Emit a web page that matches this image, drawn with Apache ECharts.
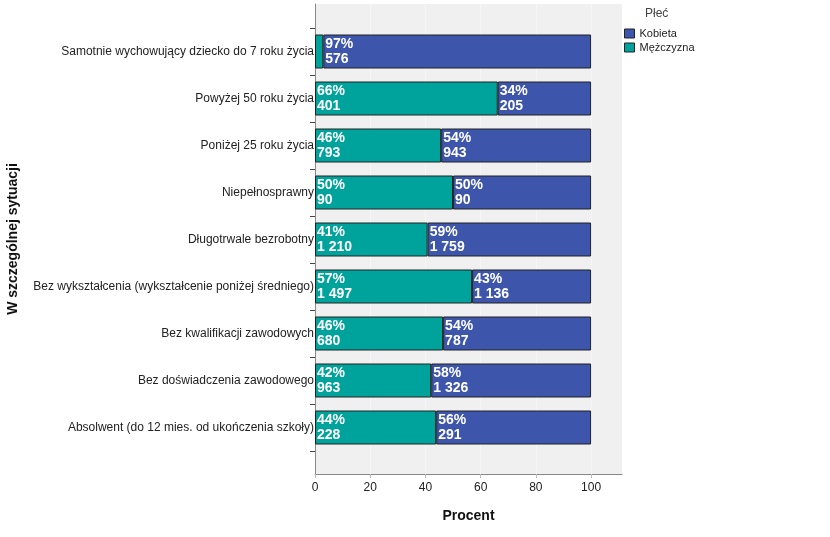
<!DOCTYPE html>
<html>
<head>
<meta charset="utf-8">
<script src="https://cdn.jsdelivr.net/npm/echarts@6/dist/echarts.min.js"></script>
<style>html,body{margin:0;padding:0;background:#fff}#c{width:830px;height:537px}</style>
</head>
<body>
<div id="c"></div>
<script>
const categories = [
  'Samotnie wychowujący dziecko do 7 roku życia',
  'Powyżej 50 roku życia',
  'Poniżej 25 roku życia',
  'Niepełnosprawny',
  'Długotrwale bezrobotny',
  'Bez wykształcenia (wykształcenie poniżej średniego)',
  'Bez kwalifikacji zawodowych',
  'Bez doświadczenia zawodowego',
  'Absolwent (do 12 mies. od ukończenia szkoły)'
];
const menPercent   = [3.0, 66.2, 45.7, 50.0, 40.8, 56.9, 46.4, 42.1, 43.9];
const womenPercent = [97.0, 33.8, 54.3, 50.0, 59.2, 43.1, 53.6, 57.9, 56.1];
const menCount   = [18, 401, 793, 90, 1210, 1497, 680, 963, 228];
const womenCount = [576, 205, 943, 90, 1759, 1136, 787, 1326, 291];
const xTicks = [0, 20, 40, 60, 80, 100];

const FONT = 'Liberation Sans, Arial, sans-serif';
const X_MAX = 111.2;

function fmtCount(n) {
  return String(n).replace(/\B(?=(\d{3})+(?!\d))/g, ' ');
}
function makeData(pcts, counts) {
  return pcts.map((p, i) => ({
    value: p,
    count: counts[i],
    label: { show: p >= 10 }
  }));
}
const labelCfg = {
  show: true,
  position: 'insideLeft',
  distance: 2,
  color: '#fff',
  fontFamily: FONT,
  fontWeight: 'bold',
  fontSize: 14,
  lineHeight: 15,
  formatter: p => Math.round(p.value) + '%\n' + fmtCount(p.data.count)
};

const chart = echarts.init(document.getElementById('c'), null, { renderer: 'canvas' });
chart.setOption({
  animation: false,
  textStyle: { fontFamily: FONT },
  title: {
    text: 'Płeć', left: 640, top: 3,
    textStyle: { fontFamily: FONT, fontSize: 12, fontWeight: 'normal', color: '#444' }
  },
  legend: {
    data: ['Kobieta', 'Mężczyzna'],
    orient: 'vertical', left: 624, top: 28, padding: 0,
    itemWidth: 10, itemHeight: 9, itemGap: 3,
    icon: 'rect',
    textStyle: { fontFamily: FONT, fontSize: 11, color: '#222' },
    itemStyle: { borderColor: '#222', borderWidth: 1 }
  },
  grid: [
    { left: 315, right: 208, top: 4, bottom: 63, show: true, backgroundColor: '#F0F0F0', borderWidth: 0 },
    { left: 315, right: 208, top: 28, height: 423 }
  ],
  xAxis: [
    {
      gridIndex: 0, type: 'value', min: 0, max: X_MAX, interval: 20,
      axisLine: { show: true, lineStyle: { color: '#888', width: 1 } },
      axisTick: { show: true, length: 4, lineStyle: { color: '#bbb' }, customValues: xTicks },
      axisLabel: { color: '#222', fontSize: 12, margin: 8, customValues: xTicks,
        formatter: v => (v % 20 === 0 ? String(v) : '') },
      splitLine: { show: true, lineStyle: { color: '#F6F6F9', width: 1 } },
      name: 'Procent', nameLocation: 'middle', nameGap: 35,
      nameTextStyle: { fontFamily: FONT, fontSize: 14, fontWeight: 'bold', color: '#111' }
    },
    {
      gridIndex: 1, type: 'value', min: 0, max: X_MAX, show: false
    }
  ],
  yAxis: [
    {
      gridIndex: 0, type: 'value', min: 0, max: 1,
      axisLine: { show: true, lineStyle: { color: '#888', width: 1 } },
      axisTick: { show: false }, axisLabel: { show: false }, splitLine: { show: false },
      name: 'W szczególnej sytuacji', nameLocation: 'middle', nameRotate: 90, nameGap: 295,
      nameTextStyle: { fontFamily: FONT, fontSize: 14, fontWeight: 'bold', color: '#111' }
    },
    {
      gridIndex: 1, type: 'category', data: categories, inverse: true,
      axisLine: { show: false },
      axisTick: { show: true, length: 5, lineStyle: { color: '#444' } },
      axisLabel: { color: '#222', fontSize: 12, margin: 1, fontFamily: FONT },
      splitLine: { show: false }
    }
  ],
  series: [
    {
      name: 'Mężczyzna', type: 'bar', stack: 'total', xAxisIndex: 1, yAxisIndex: 1,
      barWidth: 34,
      itemStyle: { color: '#00A39C', borderColor: '#222', borderWidth: 1 },
      label: labelCfg,
      data: makeData(menPercent, menCount)
    },
    {
      name: 'Kobieta', type: 'bar', stack: 'total', xAxisIndex: 1, yAxisIndex: 1,
      barWidth: 34,
      itemStyle: { color: '#3D55AB', borderColor: '#222', borderWidth: 1 },
      label: labelCfg,
      data: makeData(womenPercent, womenCount)
    }
  ]
});
</script>
</body>
</html>
